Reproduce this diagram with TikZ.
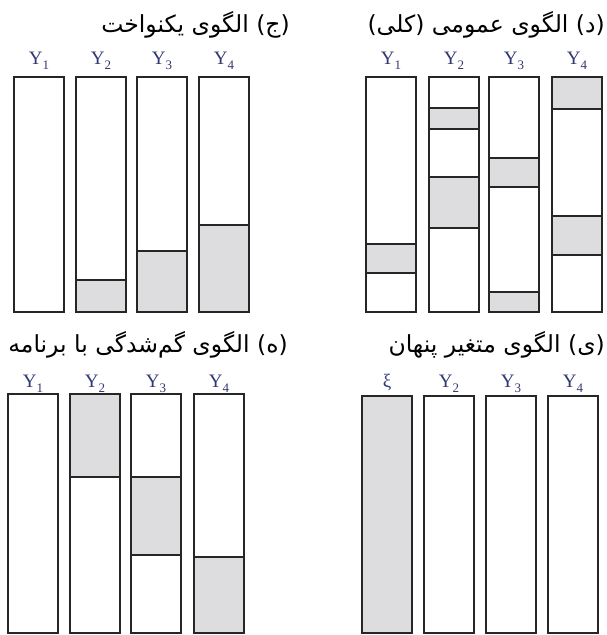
\documentclass[tikz,border=0pt]{standalone}
\usepackage{fontspec}
\newfontfamily\farsi[Script=Arabic]{DejaVu Sans}
\newfontfamily\lblfont{Liberation Serif}
\TeXXeTstate=1
\definecolor{lblblue}{RGB}{48,56,112}
\definecolor{bandgray}{RGB}{221,221,223}
\newcommand{\ylab}[1]{Y\raisebox{-0.3em}{\fontsize{13}{13}\selectfont #1}}
\tikzset{
  col/.style={draw=black!85, line width=2.6pt},
  band/.style={fill=bandgray, draw=black!85, line width=2pt},
  lbl/.style={text=lblblue, font=\lblfont\fontsize{19}{22}\selectfont, anchor=base, inner sep=0pt},
  ttl/.style={font=\farsi\fontsize{23.5}{26}\selectfont, anchor=base east, inner sep=0pt}
}
\begin{document}
\begin{tikzpicture}[x=1pt, y=-1pt]
  \useasboundingbox (0,0) rectangle (606,635);
  % (c) uniform
  \node[ttl] (ttlC) at (290,32) {\farsi\beginR (ج) الگوی یکنواخت\endR};
  \foreach \x/\a in {76/280,137/251,199/225} \filldraw[band] (\x,\a) rectangle (\x+50,312);
  \foreach \x [count=\i] in {14,76,137,199}{
    \draw[col] (\x,77) rectangle (\x+50,312);
    \node[lbl] (c\i) at (\x+25,64) {\ylab{\i}};}
  % (d) general
  \node[ttl] (ttlD) at (605,32) {\farsi\beginR (د) الگوی عمومی (کلی)\endR};
  \foreach \x/\a/\b in {366/244/273, 429/108/129, 429/177/228, 489/158/187, 489/292/312, 552/77/109, 552/216/255}
    \filldraw[band] (\x,\a) rectangle (\x+50,\b);
  \foreach \x [count=\i] in {366,429,489,552}{
    \draw[col] (\x,77) rectangle (\x+50,312);
    \node[lbl] (d\i) at (\x+25,64) {\ylab{\i}};}
  % (e) planned missingness
  \node[ttl] (ttlE) at (288,352) {\farsi\beginR (ه) الگوی گم‌شدگی با برنامه\endR};
  \foreach \x/\a/\b in {70/394/477, 131/477/555, 194/557/633}
    \filldraw[band] (\x,\a) rectangle (\x+50,\b);
  \foreach \x [count=\i] in {8,70,131,194}{
    \draw[col] (\x,394) rectangle (\x+50,633);
    \node[lbl] (e\i) at (\x+25,387) {\ylab{\i}};}
  % (y) latent variable
  \node[ttl] (ttlY) at (605,352) {\farsi\beginR (ی) الگوی متغیر پنهان\endR};
  \filldraw[band, line width=2.6pt] (362,396) rectangle (412,633);
  \node[lbl] (y1) at (387,387) {ξ};
  \foreach \x [count=\i from 2] in {424,486,548}{
    \draw[col] (\x,396) rectangle (\x+50,633);
    \node[lbl] (y\i) at (\x+25,387) {\ylab{\i}};}
\end{tikzpicture}
\end{document}
